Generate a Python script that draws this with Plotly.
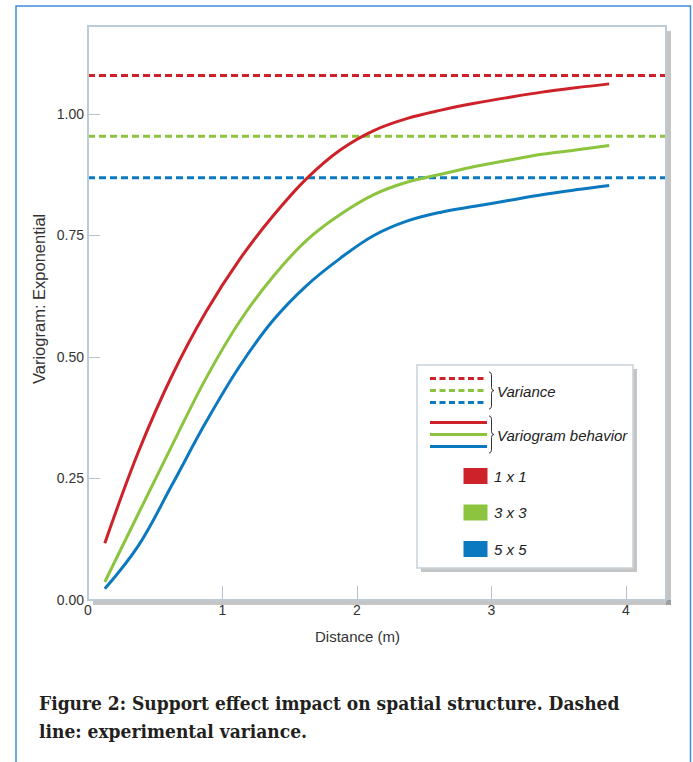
import plotly.graph_objects as go

# ---------------- data ----------------
distance = [0.125, 0.375, 0.625, 0.875, 1.125, 1.375, 1.625, 1.875,
            2.125, 2.375, 2.625, 2.875, 3.125, 3.375, 3.625, 3.875]
vario_1x1 = [0.117, 0.305, 0.462, 0.592, 0.700, 0.790, 0.867, 0.926,
             0.966, 0.991, 1.008, 1.022, 1.034, 1.045, 1.054, 1.062]
vario_3x3 = [0.037, 0.178, 0.318, 0.455, 0.572, 0.665, 0.740, 0.793,
             0.834, 0.860, 0.876, 0.892, 0.905, 0.917, 0.926, 0.935]
vario_5x5 = [0.023, 0.112, 0.237, 0.365, 0.480, 0.575, 0.647, 0.703,
             0.750, 0.780, 0.798, 0.810, 0.822, 0.834, 0.844, 0.853]
variance_1x1 = 1.079
variance_3x3 = 0.954
variance_5x5 = 0.869
support_labels = ["1 x 1", "3 x 3", "5 x 5"]
colors = ["#cd2229", "#8cc43f", "#0b79bf"]

x_ticks = [0, 1, 2, 3, 4]
y_ticks = [0.0, 0.25, 0.5, 0.75, 1.0]
y_tick_text = ["0.00", "0.25", "0.50", "0.75", "1.00"]

# ---------------- geometry ----------------
W, H = 693, 762
ML, MR, MT, MB = 88, 27, 26, 162
PW = W - ML - MR
PH = H - MT - MB
X_MAX = PW / 134.5
Y_MAX = PH / 486.0


def px(x):
    return (x - ML) / PW


def py(y):
    return (H - MB - y) / PH


fig = go.Figure()

series = [vario_1x1, vario_3x3, vario_5x5]
variances = [variance_1x1, variance_3x3, variance_5x5]

for lab, v, c in zip(support_labels, variances, colors):
    fig.add_trace(go.Scatter(x=[0, X_MAX], y=[v, v], mode="lines",
                             line=dict(color=c, width=3, dash="7px,4px"),
                             name="Variance " + lab, showlegend=False,
                             hoverinfo="skip"))

for lab, s, c in zip(support_labels, series, colors):
    fig.add_trace(go.Scatter(x=distance, y=s, mode="lines",
                             line=dict(color=c, width=3, shape="spline", smoothing=1.1),
                             name="Variogram " + lab, showlegend=False))

shapes = []
# outer blue frame
shapes.append(dict(type="rect", xref="paper", yref="paper",
                   x0=px(16), x1=px(690.5), y0=py(800), y1=py(6),
                   line=dict(color="#3b8fd6", width=1.5), fillcolor="rgba(0,0,0,0)",
                   layer="below"))
# plot area shadow
shapes.append(dict(type="rect", xref="paper", yref="paper",
                   x0=px(666), x1=px(671), y0=py(605), y1=py(31),
                   line=dict(width=0), fillcolor="rgba(90,90,90,0.35)", layer="below"))
shapes.append(dict(type="rect", xref="paper", yref="paper",
                   x0=px(93), x1=px(671), y0=py(605), y1=py(600),
                   line=dict(width=0), fillcolor="rgba(90,90,90,0.35)", layer="below"))
# plot area border
shapes.append(dict(type="rect", xref="paper", yref="paper",
                   x0=0, x1=1, y0=0, y1=1,
                   line=dict(color="#bccbd6", width=2), fillcolor="rgba(0,0,0,0)",
                   layer="above"))

# legend box
LX0, LX1, LY0, LY1 = 417, 633, 365, 568
shapes.append(dict(type="rect", xref="paper", yref="paper",
                   x0=px(LX0 + 4), x1=px(LX1 + 4), y0=py(LY1 + 4), y1=py(LY0 + 4),
                   line=dict(width=0), fillcolor="rgba(90,90,90,0.35)", layer="above"))
shapes.append(dict(type="rect", xref="paper", yref="paper",
                   x0=px(LX0), x1=px(LX1), y0=py(LY1), y1=py(LY0),
                   line=dict(color="#c9d2d9", width=1.5), fillcolor="white",
                   layer="above"))

dash_y = [378.5, 390.5, 402.5]
solid_y = [422.5, 434.5, 446.5]
for c, yd, ys in zip(colors, dash_y, solid_y):
    shapes.append(dict(type="line", xref="paper", yref="paper",
                       x0=px(430), x1=px(487), y0=py(yd), y1=py(yd),
                       line=dict(color=c, width=3, dash="6px,3.5px"), layer="above"))
    shapes.append(dict(type="line", xref="paper", yref="paper",
                       x0=px(430), x1=px(487), y0=py(ys), y1=py(ys),
                       line=dict(color=c, width=3), layer="above"))


def brace(x0, ytop, ybot):
    ym = (ytop + ybot) / 2
    pts = [
        ("M", [(x0, ytop)]),
        ("Q", [(x0 + 2.5, ytop), (x0 + 2.5, ytop + 4)]),
        ("L", [(x0 + 2.5, ym - 3)]),
        ("Q", [(x0 + 2.5, ym), (x0 + 5, ym)]),
        ("Q", [(x0 + 2.5, ym), (x0 + 2.5, ym + 3)]),
        ("L", [(x0 + 2.5, ybot - 4)]),
        ("Q", [(x0 + 2.5, ybot), (x0, ybot)]),
    ]
    d = ""
    for cmd, ps in pts:
        d += cmd + " " + " ".join("%.5f,%.5f" % (px(a), py(b)) for a, b in ps) + " "
    return d


for ytop, ybot in [(372, 409), (416, 453)]:
    shapes.append(dict(type="path", xref="paper", yref="paper",
                       path=brace(489, ytop, ybot),
                       line=dict(color="#333333", width=1), layer="above"))

square_y = [476, 512.5, 549]
for c, yc in zip(colors, square_y):
    shapes.append(dict(type="rect", xref="paper", yref="paper",
                       x0=px(463.5), x1=px(487.5), y0=py(yc + 8), y1=py(yc - 8),
                       line=dict(width=0), fillcolor=c, layer="above"))

annotations = []
leg_font = dict(family="Liberation Sans, Arial, sans-serif", size=15, color="#222222")
annotations.append(dict(xref="paper", yref="paper", x=px(495), y=py(391),
                        text="<i>Variance</i>", showarrow=False,
                        xanchor="left", yanchor="middle", font=leg_font))
annotations.append(dict(xref="paper", yref="paper", x=px(495), y=py(435),
                        text="<i>Variogram behavior</i>", showarrow=False,
                        xanchor="left", yanchor="middle", font=leg_font))
for lab, yc in zip(support_labels, square_y):
    annotations.append(dict(xref="paper", yref="paper", x=px(492), y=py(yc),
                            text="<i>" + lab + "</i>", showarrow=False,
                            xanchor="left", yanchor="middle", font=leg_font))

tick_font = dict(family="Liberation Sans, Arial, sans-serif", size=14, color="#333333")
annotations.append(dict(xref="paper", yref="paper", x=px(357), y=py(636),
                        text="Distance (m)", showarrow=False,
                        xanchor="center", yanchor="middle",
                        font=dict(family="Liberation Sans, Arial, sans-serif", size=15,
                                  color="#333333")))
annotations.append(dict(xref="paper", yref="paper", x=px(39), y=py(299),
                        text="Variogram: Exponential", showarrow=False, textangle=-90,
                        xanchor="center", yanchor="middle",
                        font=dict(family="Liberation Sans, Arial, sans-serif", size=16.5,
                                  color="#333333")))

cap_font = dict(family="DejaVu Serif Condensed, DejaVu Serif, serif", size=19,
                color="#231f20")
annotations.append(dict(xref="paper", yref="paper", x=px(37), y=py(703),
                        text="<b>Figure 2: Support effect impact on spatial structure. Dashed</b>",
                        showarrow=False, xanchor="left", yanchor="middle", font=cap_font))
annotations.append(dict(xref="paper", yref="paper", x=px(37), y=py(731),
                        text="<b>line: experimental variance.</b>",
                        showarrow=False, xanchor="left", yanchor="middle", font=cap_font))

fig.update_layout(
    width=W, height=H,
    margin=dict(l=ML, r=MR, t=MT, b=MB, pad=0),
    paper_bgcolor="white", plot_bgcolor="white",
    showlegend=False,
    shapes=shapes, annotations=annotations,
    xaxis=dict(range=[0, X_MAX], tickvals=x_ticks, ticktext=[str(t) for t in x_ticks],
               ticks="inside", ticklen=14, tickwidth=1.2, tickcolor="#b3c4d0",
               showgrid=False, zeroline=False, showline=False,
               tickfont=tick_font, automargin=False, fixedrange=True),
    yaxis=dict(range=[0, Y_MAX], tickvals=y_ticks, ticktext=y_tick_text,
               ticks="inside", ticklen=12, tickwidth=1.2, tickcolor="#b3c4d0",
               showgrid=False, zeroline=False, showline=False, ticklabelstandoff=3,
               tickfont=tick_font, automargin=False, fixedrange=True),
)

fig.write_html("out.html",
               config={"displayModeBar": False},
               post_script="document.body.style.margin='0px';"
                           "document.body.style.overflow='hidden';")
